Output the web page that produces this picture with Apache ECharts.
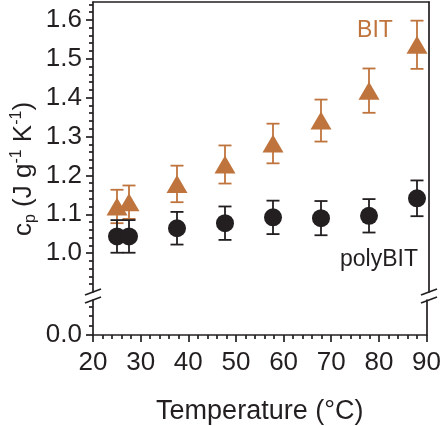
<!DOCTYPE html>
<html>
<head>
<meta charset="utf-8">
<title>cp vs temperature</title>
<script src="https://cdn.jsdelivr.net/npm/echarts@6.0.0/dist/echarts.min.js"></script>
<style>
    html, body { margin: 0; padding: 0; background: #fff; }
    #chart { width: 444px; height: 426px; }
</style>
</head>
<body>
<div id="chart"></div>
<script>
// temperature (°C)
var temps = [25, 27.5, 37.5, 47.5, 57.5, 67.5, 77.5, 87.5];
// BIT, cp and error
var bitCp = [1.120, 1.131, 1.178, 1.228, 1.282, 1.341, 1.418, 1.536];
var bitErr = [0.043, 0.043, 0.047, 0.049, 0.051, 0.054, 0.057, 0.062];
// polyBIT, cp and error
var polyCp = [1.043, 1.043, 1.064, 1.077, 1.092, 1.090, 1.096, 1.141];
var polyErr = [0.042, 0.042, 0.042, 0.043, 0.043, 0.044, 0.043, 0.046];
// tick labels
var upperTicks = [1.0, 1.1, 1.2, 1.3, 1.4, 1.5, 1.6];
var lowerTicks = [0.0];
var lowerMinor = [0.025, 0.05, 0.075];

var FONT = '"Liberation Sans", Arial, sans-serif';
var INK = '#231f20';
var ORANGE = '#c0743d';

// layout of the two stacked grids (broken y axis)
var GL = 93, GW = 336;
var UP_TOP = 2, UP_H = 290;
var LO_TOP = 300, LO_H = 37;

var chart = echarts.init(document.getElementById('chart'));

var lineStyle = { color: INK, width: 1.7 };

function errorBars(color) {
    return function (params, api) {
        var x = api.value(0), y = api.value(1), e = api.value(2);
        var hi = api.coord([x, y + e]);
        var lo = api.coord([x, y - e]);
        var w = 6.5;
        var st = { stroke: color, lineWidth: 1.8 };
        return {
            type: 'group',
            children: [
                { type: 'line', shape: { x1: hi[0], y1: hi[1], x2: lo[0], y2: lo[1] }, style: st },
                { type: 'line', shape: { x1: hi[0] - w, y1: hi[1], x2: hi[0] + w, y2: hi[1] }, style: st },
                { type: 'line', shape: { x1: lo[0] - w, y1: lo[1], x2: lo[0] + w, y2: lo[1] }, style: st }
            ]
        };
    };
}

function lineOnly(gridIndex, position, min, max) {
    return {
        type: 'value', gridIndex: gridIndex, position: position, min: min, max: max,
        axisLine: { show: true, onZero: false, lineStyle: lineStyle },
        axisTick: { show: false }, axisLabel: { show: false },
        splitLine: { show: false }
    };
}

// "//" marks where the axis is broken
function breakMarks(x) {
    var list = [];
    [UP_TOP + UP_H, LO_TOP].forEach(function (y) {
        list.push({
            type: 'line', z: 100,
            shape: { x1: x - 8, y1: y + 3, x2: x + 8, y2: y - 3 },
            style: { stroke: INK, lineWidth: 1.7 }
        });
    });
    return list;
}

var option = {
    animation: false,
    backgroundColor: '#fff',
    textStyle: { fontFamily: FONT },
    grid: [
        { left: GL, width: GW, top: UP_TOP, height: UP_H },
        { left: GL, width: GW, top: LO_TOP, height: LO_H }
    ],
    xAxis: [
        lineOnly(0, 'top', 20, 90),
        {
            type: 'value', gridIndex: 1, position: 'bottom', min: 20, max: 90, interval: 10,
            axisLine: { show: true, onZero: false, lineStyle: lineStyle },
            axisTick: { show: true, length: 7, lineStyle: lineStyle },
            minorTick: { show: true, splitNumber: 5, length: 4, lineStyle: lineStyle },
            axisLabel: { fontSize: 26, color: INK, margin: 15, fontFamily: FONT },
            splitLine: { show: false },
            name: 'Temperature (°C)', nameLocation: 'middle', nameGap: 63,
            nameTextStyle: { fontSize: 27, color: INK, fontFamily: FONT }
        }
    ],
    yAxis: [
        {
            type: 'value', gridIndex: 0, position: 'left', min: 0.9, max: 1.646, interval: 0.1,
            axisLine: { show: true, onZero: false, lineStyle: lineStyle },
            axisTick: { show: true, length: 7, customValues: upperTicks, lineStyle: lineStyle },
            minorTick: { show: true, splitNumber: 5, length: 4, lineStyle: lineStyle },
            axisLabel: {
                customValues: upperTicks, fontSize: 26, color: INK, margin: 11, fontFamily: FONT,
                formatter: function (v) { return v.toFixed(1); }
            },
            splitLine: { show: false }
        },
        lineOnly(0, 'right', 0.9, 1.646),
        {
            type: 'value', gridIndex: 1, position: 'left', min: 0, max: 0.0925,
            axisLine: { show: true, onZero: false, lineStyle: lineStyle },
            axisTick: { show: true, length: 7, customValues: lowerTicks, lineStyle: lineStyle },
            axisLabel: {
                customValues: lowerTicks, fontSize: 26, color: INK, margin: 11, fontFamily: FONT,
                formatter: function (v) { return v.toFixed(1); }
            },
            splitLine: { show: false }
        },
        {
            type: 'value', gridIndex: 1, position: 'left', min: 0, max: 0.0925,
            axisLine: { show: false },
            axisTick: { show: true, length: 4, customValues: lowerMinor, lineStyle: lineStyle },
            axisLabel: { show: false },
            splitLine: { show: false }
        },
        lineOnly(1, 'right', 0, 0.0925)
    ],
    graphic: [
        {
            type: 'text', x: 24, y: 169, rotation: Math.PI / 2,
            style: {
                text: '{n|c}{sub|p}{n| (J g}{sup|-1}{n| K}{sup|-1}{n|)}',
                align: 'center', verticalAlign: 'middle',
                rich: {
                    n: { fontSize: 26, lineHeight: 30, fill: INK, fontFamily: FONT },
                    sub: { fontSize: 16, lineHeight: 16, verticalAlign: 'bottom', fill: INK, fontFamily: FONT },
                    sup: { fontSize: 16, lineHeight: 16, verticalAlign: 'top', fill: INK, fontFamily: FONT }
                }
            }
        },
        {
            type: 'text', x: 375, y: 31,
            style: { text: 'BIT', fontSize: 23, fill: ORANGE, fontFamily: FONT, align: 'center', verticalAlign: 'middle' }
        },
        {
            type: 'text', x: 418, y: 260,
            style: { text: 'polyBIT', fontSize: 23, fill: INK, fontFamily: FONT, align: 'right', verticalAlign: 'middle' }
        }
    ].concat(breakMarks(GL)).concat(breakMarks(GL + GW)),
    series: [
        {
            type: 'custom', xAxisIndex: 0, yAxisIndex: 0,
            renderItem: errorBars(ORANGE),
            data: temps.map(function (t, i) { return [t, bitCp[i], bitErr[i]]; }), z: 2
        },
        {
            type: 'custom', xAxisIndex: 0, yAxisIndex: 0,
            renderItem: errorBars(INK),
            data: temps.map(function (t, i) { return [t, polyCp[i], polyErr[i]]; }), z: 2
        },
        {
            name: 'BIT', type: 'scatter', xAxisIndex: 0, yAxisIndex: 0,
            symbol: 'triangle', symbolSize: [21, 18],
            itemStyle: { color: ORANGE, opacity: 1 },
            data: temps.map(function (t, i) { return [t, bitCp[i]]; }), z: 3
        },
        {
            name: 'polyBIT', type: 'scatter', xAxisIndex: 0, yAxisIndex: 0,
            symbol: 'circle', symbolSize: 18,
            itemStyle: { color: INK, opacity: 1 },
            data: temps.map(function (t, i) { return [t, polyCp[i]]; }), z: 3
        }
    ]
};

chart.setOption(option);
</script>
</body>
</html>
